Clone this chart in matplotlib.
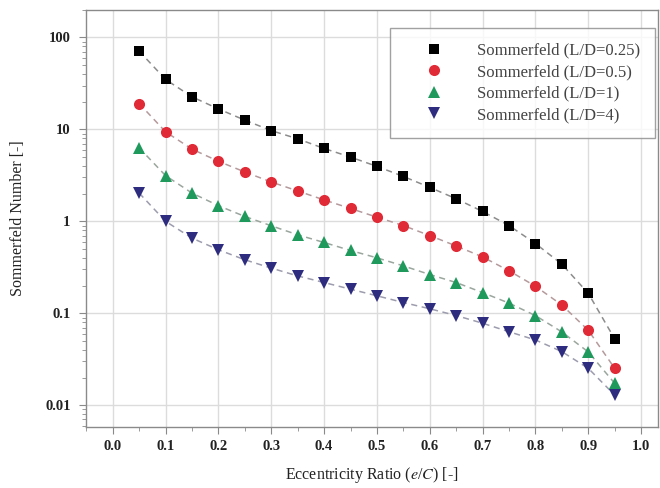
import matplotlib
matplotlib.use('Agg')
import matplotlib.pyplot as plt
from matplotlib.ticker import FixedLocator, FuncFormatter, LogLocator, MultipleLocator
from matplotlib import rcParams

rcParams['font.family'] = ['Liberation Serif', 'DejaVu Serif']
rcParams['mathtext.fontset'] = 'stix'

# eccentricity ratio
ecc = [0.05, 0.10, 0.15, 0.20, 0.25, 0.30, 0.35, 0.40, 0.45, 0.50,
       0.55, 0.60, 0.65, 0.70, 0.75, 0.80, 0.85, 0.90, 0.95]

# Sommerfeld numbers
s_025 = [71, 34.9, 22.6, 16.7, 12.6, 9.7, 7.9, 6.2, 5.0, 3.96,
         3.08, 2.34, 1.76, 1.28, 0.90, 0.574, 0.342, 0.165, 0.0526]
s_05 = [19.1, 9.4, 6.1, 4.5, 3.44, 2.68, 2.14, 1.71, 1.38, 1.11,
        0.90, 0.70, 0.54, 0.41, 0.29, 0.197, 0.123, 0.0654, 0.0252]
s_1 = [6.3, 3.14, 2.03, 1.48, 1.13, 0.895, 0.714, 0.589, 0.482, 0.401,
       0.328, 0.264, 0.216, 0.168, 0.129, 0.0944, 0.0627, 0.038, 0.0173]
s_4 = [2.03, 1.0, 0.657, 0.491, 0.382, 0.31, 0.255, 0.216, 0.183, 0.155,
       0.131, 0.112, 0.0945, 0.078, 0.063, 0.0513, 0.0383, 0.0252, 0.0129]

series = [
    ('Sommerfeld (L/D=0.25)', s_025, 's', '#000000', '#8c8c8c', 7.5),
    ('Sommerfeld (L/D=0.5)', s_05, 'o', '#e02a36', '#b59a9c', 8),
    ('Sommerfeld (L/D=1)', s_1, '^', '#1f9a5c', '#9aa69e', 8.5),
    ('Sommerfeld (L/D=4)', s_4, 'v', '#2e2c7e', '#9c9cae', 8.5),
]

fig = plt.figure(figsize=(6.6, 4.88), dpi=100)
ax = fig.add_axes([0.130, 0.125, 0.867, 0.855])

for label, vals, mk, col, lcol, ms in series:
    ax.plot(ecc, vals, linestyle=(0, (4, 3)), color=lcol, linewidth=1.1, zorder=2)
    ax.plot(ecc, vals, linestyle='none', marker=mk, color=col, markersize=ms,
            markeredgewidth=0, label=label, zorder=3)

ax.set_yscale('log')
ax.set_xlim(-0.051, 1.032)
ax.set_ylim(0.0058, 200)

ax.xaxis.set_major_locator(MultipleLocator(0.1))
ax.xaxis.set_minor_locator(MultipleLocator(0.05))
ax.xaxis.set_major_formatter(FuncFormatter(lambda v, p: '%.1f' % v))
ax.yaxis.set_major_locator(FixedLocator([0.01, 0.1, 1, 10, 100]))
ax.yaxis.set_minor_locator(LogLocator(base=10, subs=range(2, 10)))
ax.yaxis.set_major_formatter(FuncFormatter(lambda v, p: '%g' % v))

ax.grid(True, which='major', color='#dcdcdc', linewidth=1.0, zorder=0)
ax.set_axisbelow(True)

for sp in ax.spines.values():
    sp.set_color('#8a8a8a')
    sp.set_linewidth(1.0)

ax.tick_params(which='major', direction='out', length=5, color='#8a8a8a',
               labelsize=10.5, labelcolor='#222222', pad=4)
ax.tick_params(axis='y', which='major', pad=6)
ax.tick_params(which='minor', direction='out', length=3, color='#8a8a8a')
for t in ax.get_xticklabels() + ax.get_yticklabels():
    t.set_fontweight('bold')

ax.set_xlabel('Eccentricity Ratio ($e$/$C$) [-]', fontsize=11.5, color='#222222', labelpad=9)
ax.set_ylabel('Sommerfeld Number [-]', fontsize=11.5, color='#222222', labelpad=14)

leg = ax.legend(loc='upper right', bbox_to_anchor=(0.995, 0.957), fontsize=12,
                frameon=True, fancybox=False, edgecolor='#8a8a8a',
                handletextpad=0.9, borderpad=0.9, labelspacing=0.33,
                borderaxespad=0, handlelength=3.4)
leg.get_frame().set_linewidth(1.0)
for t in leg.get_texts():
    t.set_color('#444444')

fig.savefig('out.png', dpi=100)
